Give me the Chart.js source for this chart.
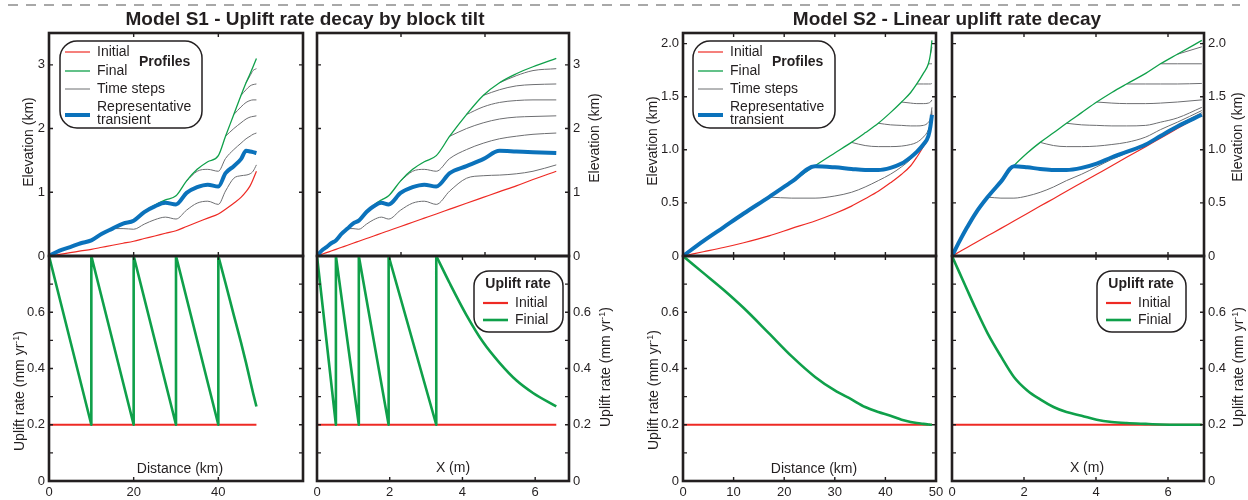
<!DOCTYPE html>
<html>
<head>
<meta charset="utf-8">
<script src="https://cdn.jsdelivr.net/npm/chart.js@4.4.1/dist/chart.umd.min.js"></script>
<style>
  body { margin: 0; background: #fff; }
  #wrap { position: relative; width: 1248px; height: 500px; overflow: hidden;
          font-family: "Liberation Sans", Arial, Helvetica, sans-serif; color: #231f20; }
  #wrap canvas { position: absolute; left: 0; top: 0; }
  .t { position: absolute; white-space: nowrap; font-size: 14px; transform: translate(-50%, -50%); }
  .rot { transform: translate(-50%, -50%) rotate(-90deg); }
  .title { font-weight: bold; font-size: 19px; }
  sup { font-size: 9px; }
</style>
</head>
<body>
<div id="wrap">
  <svg width="1248" height="12" style="position:absolute;left:0;top:0">
    <line x1="8" y1="5" x2="1240" y2="5" stroke="#8c8c8c" stroke-width="1.5" stroke-dasharray="10 8"/>
  </svg>
  <canvas id="s1KmTop" width="1248" height="500"></canvas>
  <canvas id="s1KmBot" width="1248" height="500"></canvas>
  <canvas id="s1XTop" width="1248" height="500"></canvas>
  <canvas id="s1XBot" width="1248" height="500"></canvas>
  <canvas id="s2KmTop" width="1248" height="500"></canvas>
  <canvas id="s2KmBot" width="1248" height="500"></canvas>
  <canvas id="s2XTop" width="1248" height="500"></canvas>
  <canvas id="s2XBot" width="1248" height="500"></canvas>

  <div class="t title" style="left:305px;top:19px">Model S1 - Uplift rate decay by block tilt</div>
  <div class="t title" style="left:947px;top:19px">Model S2 - Linear uplift rate decay</div>

  <div class="t rot" style="left:28px;top:142px">Elevation (km)</div>
  <div class="t rot" style="left:594px;top:138px">Elevation (km)</div>
  <div class="t rot" style="left:652px;top:141px">Elevation (km)</div>
  <div class="t rot" style="left:1237px;top:137px">Elevation (km)</div>

  <div class="t rot" style="left:19px;top:391px">Uplift rate (mm yr<sup>-1</sup>)</div>
  <div class="t rot" style="left:605px;top:367px">Uplift rate (mm yr<sup>-1</sup>)</div>
  <div class="t rot" style="left:653px;top:390px">Uplift rate (mm yr<sup>-1</sup>)</div>
  <div class="t rot" style="left:1238px;top:367px">Uplift rate (mm yr<sup>-1</sup>)</div>

  <div class="t" style="left:180px;top:468px">Distance (km)</div>
  <div class="t" style="left:453px;top:467px">X (m)</div>
  <div class="t" style="left:814px;top:468px">Distance (km)</div>
  <div class="t" style="left:1087px;top:467px">X (m)</div>
</div>

<script>
// ---- Model S1: profile nodes (same nodes, distance in km and transformed X) ----
const s1Km = [0, 2.5, 5, 7.5, 10, 12.5, 15, 17.5, 20, 22.5, 25, 27.5, 30, 32.5, 35, 37.5, 40, 41.7, 43.65, 45.35, 46.55, 47.5, 48.2, 49];
const s1X  = [0, 0.13, 0.26, 0.39, 0.52, 0.68, 0.84, 0.99, 1.15, 1.36, 1.56, 1.77, 1.97, 2.30, 2.63, 2.95, 3.28, 3.65, 4.11, 4.57, 5.02, 5.48, 5.94, 6.58];
const s1Initial   = [0, 0.026, 0.052, 0.079, 0.105, 0.137, 0.169, 0.2, 0.232, 0.274, 0.314, 0.357, 0.397, 0.463, 0.53, 0.594, 0.66, 0.735, 0.828, 0.92, 1.01, 1.10, 1.20, 1.33];
const s1Final     = [0, 0.085, 0.14, 0.2, 0.25, 0.35, 0.43, 0.51, 0.565, 0.70, 0.80, 0.88, 0.945, 1.18, 1.36, 1.48, 1.575, 1.88, 2.22, 2.52, 2.72, 2.86, 2.97, 3.10];
const s1Transient = [0, 0.085, 0.14, 0.2, 0.245, 0.35, 0.43, 0.51, 0.555, 0.69, 0.78, 0.835, 0.81, 0.99, 1.08, 1.12, 1.09, 1.30, 1.41, 1.52, 1.65, 1.64, 1.63, 1.615];
const s1Steps = [
  [null, null, null, null, null, null, null, null, null, null, null, null, null, null, null, null, null, null, null, null, 2.72, 2.83, 2.91, 2.94],
  [null, null, null, null, null, null, null, null, null, null, null, null, null, null, null, null, null, null, null, 2.52, 2.61, 2.67, 2.69, 2.70],
  [null, null, null, null, null, null, null, null, null, null, null, null, null, null, null, null, null, null, 2.22, 2.34, 2.41, 2.44, 2.45, 2.45],
  [null, null, null, null, null, null, null, null, null, null, null, null, null, null, null, null, null, 1.88, 2.0, 2.09, 2.15, 2.18, 2.19, 2.20],
  [null, null, null, null, null, null, null, null, null, null, null, null, null, 1.18, 1.33, 1.36, 1.33, 1.53, 1.67, 1.77, 1.84, 1.88, 1.91, 1.93],
  [null, null, null, null, null, null, 0.43, 0.43, 0.42, 0.50, 0.57, 0.61, 0.58, 0.72, 0.83, 0.86, 0.81, 1.02, 1.22, 1.26, 1.27, 1.29, 1.33, 1.43]
];
// S1 uplift rate (mm/yr): sawtooth blocks, then the last block's decay
const s1SawKm = [0, 10, 10, 20, 20, 30, 30, 40, 40];
const s1SawX  = [0, 0.52, 0.52, 1.15, 1.15, 1.97, 1.97, 3.28, 3.28];
const s1SawRate = [0.8, 0.2, 0.8, 0.2, 0.8, 0.2, 0.8, 0.2, 0.8];
const s1TailKm = [40, 41.7, 43.65, 45.35, 46.55, 47.5, 48.2, 49];
const s1TailX  = [3.28, 3.65, 4.11, 4.57, 5.02, 5.48, 5.94, 6.58];
const s1TailRate = [0.8, 0.703, 0.59, 0.493, 0.42, 0.358, 0.313, 0.265];
const s1RateInitKm = [0, 49];
const s1RateInitX = [0, 6.58];
const s1RateInitial = [0.2, 0.2];

// ---- Model S2 ----
const s2Km = [0, 4, 8, 12, 17, 21.5, 26.1, 30, 33.3, 36, 38.6, 41, 43.2, 45, 46.2, 47.5, 48.5, 48.9, 49.2];
const s2X  = [0, 0.21, 0.42, 0.65, 0.99, 1.36, 1.72, 2.09, 2.45, 2.82, 3.18, 3.6, 4.02, 4.44, 4.85, 5.38, 5.79, 6.26, 6.94];
const s2Initial   = [0, 0.04, 0.08, 0.125, 0.19, 0.26, 0.33, 0.40, 0.47, 0.54, 0.61, 0.69, 0.77, 0.85, 0.93, 1.03, 1.11, 1.2, 1.33];
const s2Final     = [0, 0.14, 0.27, 0.40, 0.555, 0.70, 0.85, 0.97, 1.07, 1.16, 1.25, 1.35, 1.45, 1.54, 1.62, 1.72, 1.81, 1.90, 2.03];
const s2Transient = [0, 0.14, 0.27, 0.40, 0.555, 0.70, 0.845, 0.835, 0.82, 0.81, 0.81, 0.83, 0.87, 0.93, 0.98, 1.05, 1.13, 1.22, 1.33];
const s2Steps = [
  [null, null, null, null, null, null, null, null, null, null, null, null, null, null, null, null, null, 1.90, 1.97],
  [null, null, null, null, null, null, null, null, null, null, null, null, null, null, null, null, 1.81, 1.81, 1.81],
  [null, null, null, null, null, null, null, null, null, null, null, null, null, null, 1.62, 1.62, 1.62, 1.62, 1.625],
  [null, null, null, null, null, null, null, null, null, null, null, null, 1.45, 1.44, 1.435, 1.435, 1.44, 1.45, 1.47],
  [null, null, null, null, null, null, null, null, null, null, 1.25, 1.235, 1.23, 1.225, 1.225, 1.23, 1.26, 1.30, 1.40],
  [null, null, null, null, null, null, null, null, 1.07, 1.04, 1.03, 1.03, 1.035, 1.05, 1.07, 1.12, 1.19, 1.26, 1.37],
  [null, null, null, null, 0.555, 0.545, 0.545, 0.565, 0.60, 0.65, 0.71, 0.77, 0.84, 0.91, 0.97, 1.05, 1.13, 1.23, 1.35]
];
const s2RateFinal = [0.8, 0.74, 0.68, 0.615, 0.525, 0.443, 0.37, 0.322, 0.29, 0.263, 0.245, 0.232, 0.218, 0.21, 0.206, 0.203, 0.201, 0.2, 0.2];
const s2RateInitKm = [0, 49.2];
const s2RateInitX = [0, 6.94];
const s2RateInitial = [0.2, 0.2];

// ---- drawing ----
const W = 1248, H = 500;
const INK = '#231f20', RED = '#ee2a24', GREEN = '#0fa04a', BLUE = '#0b72bb', GRAY = '#6d6e71';
Chart.defaults.font.family = '"Liberation Sans", Arial, Helvetica, sans-serif';
Chart.defaults.color = INK;

function pts(xs, ys) {
  return xs.map((x, i) => ({ x: x, y: ys[i] }));
}

function line(xs, ys, color, w, mode) {
  return { data: pts(xs, ys), borderColor: color, borderWidth: w, tension: 0,
           cubicInterpolationMode: mode || 'default', borderJoinStyle: 'round', borderCapStyle: 'butt' };
}

function profileSets(xs, initial, final, transient, steps) {
  // first dataset is drawn on top
  return [line(xs, transient, BLUE, 4, 'monotone'), line(xs, final, GREEN, 1.3, 'monotone'),
          line(xs, initial, RED, 1.2, 'monotone')]
    .concat(steps.map(s => line(xs, s, GRAY, 1, 'monotone')));
}

function roundBox(ctx, x, y, w, h, r) {
  ctx.beginPath();
  ctx.moveTo(x + r, y);
  ctx.arcTo(x + w, y, x + w, y + h, r);
  ctx.arcTo(x + w, y + h, x, y + h, r);
  ctx.arcTo(x, y + h, x, y, r);
  ctx.arcTo(x, y, x + w, y, r);
  ctx.closePath();
}

// box frame with inward tick marks
const framePlugin = {
  id: 'frame',
  afterDatasetsDraw(chart, args, o) {
    const ctx = chart.ctx, a = chart.chartArea, sx = chart.scales.x, sy = chart.scales.y;
    ctx.save();
    ctx.strokeStyle = INK;
    ctx.lineWidth = 1.4;
    ctx.beginPath();
    (o.xMarks || []).forEach(v => {
      const px = sx.getPixelForValue(v);
      ctx.moveTo(px, a.top); ctx.lineTo(px, a.top + 4);
      ctx.moveTo(px, a.bottom); ctx.lineTo(px, a.bottom - 4);
    });
    (o.yMarks || []).forEach(v => {
      const py = sy.getPixelForValue(v);
      ctx.moveTo(a.left, py); ctx.lineTo(a.left + 4, py);
      ctx.moveTo(a.right, py); ctx.lineTo(a.right - 4, py);
    });
    ctx.stroke();
    ctx.lineWidth = 2.6;
    ctx.strokeRect(a.left, a.top, a.right - a.left, a.bottom - a.top);
    ctx.restore();
  }
};

// rounded legend boxes
const keyPlugin = {
  id: 'keybox',
  afterDraw(chart, args, o) {
    if (!o || !o.kind) return;
    const ctx = chart.ctx, bx = o.x, by = o.y;
    ctx.save();
    ctx.lineWidth = 1.5;
    ctx.strokeStyle = INK;
    ctx.fillStyle = '#fff';
    ctx.textBaseline = 'middle';
    const seg = (x1, x2, y, color, w) => {
      ctx.strokeStyle = color; ctx.lineWidth = w;
      ctx.beginPath(); ctx.moveTo(x1, y); ctx.lineTo(x2, y); ctx.stroke();
    };
    if (o.kind === 'profiles') {
      roundBox(ctx, bx, by, 142, 87, 17);
      ctx.fill(); ctx.stroke();
      seg(bx + 5, bx + 30, by + 11, RED, 1.2);
      seg(bx + 5, bx + 30, by + 30, GREEN, 1.3);
      seg(bx + 5, bx + 30, by + 48, GRAY, 1);
      seg(bx + 5, bx + 30, by + 74, BLUE, 4);
      ctx.fillStyle = INK;
      ctx.font = '14px "Liberation Sans", Arial, sans-serif';
      ctx.fillText('Initial', bx + 37, by + 11);
      ctx.fillText('Final', bx + 37, by + 30);
      ctx.fillText('Time steps', bx + 37, by + 48);
      ctx.fillText('Representative', bx + 37, by + 66);
      ctx.fillText('transient', bx + 37, by + 79);
      ctx.font = 'bold 14px "Liberation Sans", Arial, sans-serif';
      ctx.fillText('Profiles', bx + 79, by + 21);
    } else {
      roundBox(ctx, bx, by, 89, 61, 15);
      ctx.fill(); ctx.stroke();
      seg(bx + 9, bx + 34, by + 32, RED, 2.2);
      seg(bx + 9, bx + 34, by + 49, GREEN, 2.6);
      ctx.fillStyle = INK;
      ctx.font = 'bold 14px "Liberation Sans", Arial, sans-serif';
      ctx.textAlign = 'center';
      ctx.fillText('Uplift rate', bx + 44, by + 13);
      ctx.textAlign = 'left';
      ctx.font = '14px "Liberation Sans", Arial, sans-serif';
      ctx.fillText('Initial', bx + 41, by + 32);
      ctx.fillText('Finial', bx + 41, by + 49);
    }
    ctx.restore();
  }
};

const fmtInt = v => String(v);
const fmtDec = v => (v === 0 ? '0' : v.toFixed(1));
const rateMarks = [0.1, 0.2, 0.3, 0.4, 0.5, 0.6, 0.7];

function makePanel(p) {
  const AXW = 40, AXH = 19;
  const leftAxis = p.yPos === 'left';
  const showX = !!p.xLabels;
  new Chart(document.getElementById(p.id), {
    type: 'line',
    data: { datasets: p.datasets },
    plugins: [framePlugin, keyPlugin],
    options: {
      responsive: false,
      animation: false,
      events: [],
      layout: {
        autoPadding: false,
        padding: {
          left: leftAxis ? p.l - AXW : p.l,
          right: leftAxis ? W - p.r : W - p.r - AXW,
          top: p.t,
          bottom: showX ? H - p.b - AXH : H - p.b
        }
      },
      elements: { point: { radius: 0 } },
      scales: {
        x: {
          type: 'linear', min: p.x[0], max: p.x[1], display: showX,
          afterFit: s => { s.height = showX ? AXH : 0; s.paddingLeft = 0; s.paddingRight = 0; s.paddingTop = 0; s.paddingBottom = 0; },
          afterBuildTicks: s => { s.ticks = (p.xLabels || []).map(v => ({ value: v })); },
          ticks: { padding: 4, maxRotation: 0, autoSkip: false, font: { size: 13 }, color: INK, callback: v => String(v) },
          grid: { display: false, drawTicks: false },
          border: { display: false }
        },
        y: {
          type: 'linear', position: p.yPos, min: p.y[0], max: p.y[1],
          afterFit: s => { s.width = AXW; s.paddingLeft = 0; s.paddingRight = 0; s.paddingTop = 0; s.paddingBottom = 0; },
          afterBuildTicks: s => { s.ticks = p.yLabels.map(v => ({ value: v })); },
          ticks: { padding: 4, autoSkip: false, font: { size: 13 }, color: INK, callback: v => p.fmtY(v) },
          grid: { display: false, drawTicks: false },
          border: { display: false }
        }
      },
      plugins: {
        legend: { display: false },
        tooltip: { enabled: false },
        frame: { xMarks: p.xMarks, yMarks: p.yMarks },
        keybox: p.key || {}
      }
    }
  });
}

const panels = [
  { id: 's1KmTop', l: 49, r: 303, t: 33, b: 256, x: [0, 60], y: [0, 3.5], yPos: 'left',
    yLabels: [0, 1, 2, 3], fmtY: fmtInt, xMarks: [20, 40], yMarks: [1, 2, 3],
    datasets: profileSets(s1Km, s1Initial, s1Final, s1Transient, s1Steps),
    key: { kind: 'profiles', x: 60, y: 41 } },
  { id: 's1KmBot', l: 49, r: 303, t: 256, b: 481, x: [0, 60], y: [0, 0.8], yPos: 'left',
    xLabels: [0, 20, 40], yLabels: [0, 0.2, 0.4, 0.6], fmtY: fmtDec, xMarks: [20, 40], yMarks: rateMarks,
    datasets: [line(s1SawKm, s1SawRate, GREEN, 2.6), line(s1TailKm, s1TailRate, GREEN, 2.6, 'monotone'),
               line(s1RateInitKm, s1RateInitial, RED, 2.2)] },
  { id: 's1XTop', l: 317, r: 569, t: 33, b: 256, x: [0, 6.93], y: [0, 3.5], yPos: 'right',
    yLabels: [0, 1, 2, 3], fmtY: fmtInt, xMarks: [2.31, 4.62], yMarks: [1, 2, 3],
    datasets: profileSets(s1X, s1Initial, s1Final, s1Transient, s1Steps) },
  { id: 's1XBot', l: 317, r: 569, t: 256, b: 481, x: [0, 6.93], y: [0, 0.8], yPos: 'right',
    xLabels: [0, 2, 4, 6], yLabels: [0, 0.2, 0.4, 0.6], fmtY: fmtDec, xMarks: [2, 4, 6], yMarks: rateMarks,
    datasets: [line(s1SawX, s1SawRate, GREEN, 2.6), line(s1TailX, s1TailRate, GREEN, 2.6, 'monotone'),
               line(s1RateInitX, s1RateInitial, RED, 2.2)],
    key: { kind: 'rate', x: 474, y: 271 } },
  { id: 's2KmTop', l: 683, r: 936, t: 33, b: 256, x: [0, 50], y: [0, 2.1], yPos: 'left',
    yLabels: [0, 0.5, 1, 1.5, 2], fmtY: fmtDec, xMarks: [10, 20, 30, 40], yMarks: [0.5, 1, 1.5, 2],
    datasets: profileSets(s2Km, s2Initial, s2Final, s2Transient, s2Steps),
    key: { kind: 'profiles', x: 693, y: 41 } },
  { id: 's2KmBot', l: 683, r: 936, t: 256, b: 481, x: [0, 50], y: [0, 0.8], yPos: 'left',
    xLabels: [0, 10, 20, 30, 40, 50], yLabels: [0, 0.2, 0.4, 0.6], fmtY: fmtDec, xMarks: [10, 20, 30, 40], yMarks: rateMarks,
    datasets: [line(s2Km, s2RateFinal, GREEN, 2.6, 'monotone'), line(s2RateInitKm, s2RateInitial, RED, 2.2)] },
  { id: 's2XTop', l: 952, r: 1204, t: 33, b: 256, x: [0, 7], y: [0, 2.1], yPos: 'right',
    yLabels: [0, 0.5, 1, 1.5, 2], fmtY: fmtDec, xMarks: [2, 4, 6], yMarks: [0.5, 1, 1.5, 2],
    datasets: profileSets(s2X, s2Initial, s2Final, s2Transient, s2Steps) },
  { id: 's2XBot', l: 952, r: 1204, t: 256, b: 481, x: [0, 7], y: [0, 0.8], yPos: 'right',
    xLabels: [0, 2, 4, 6], yLabels: [0, 0.2, 0.4, 0.6], fmtY: fmtDec, xMarks: [2, 4, 6], yMarks: rateMarks,
    datasets: [line(s2X, s2RateFinal, GREEN, 2.6, 'monotone'), line(s2RateInitX, s2RateInitial, RED, 2.2)],
    key: { kind: 'rate', x: 1097, y: 271 } }
];

panels.forEach(makePanel);
</script>
</body>
</html>
